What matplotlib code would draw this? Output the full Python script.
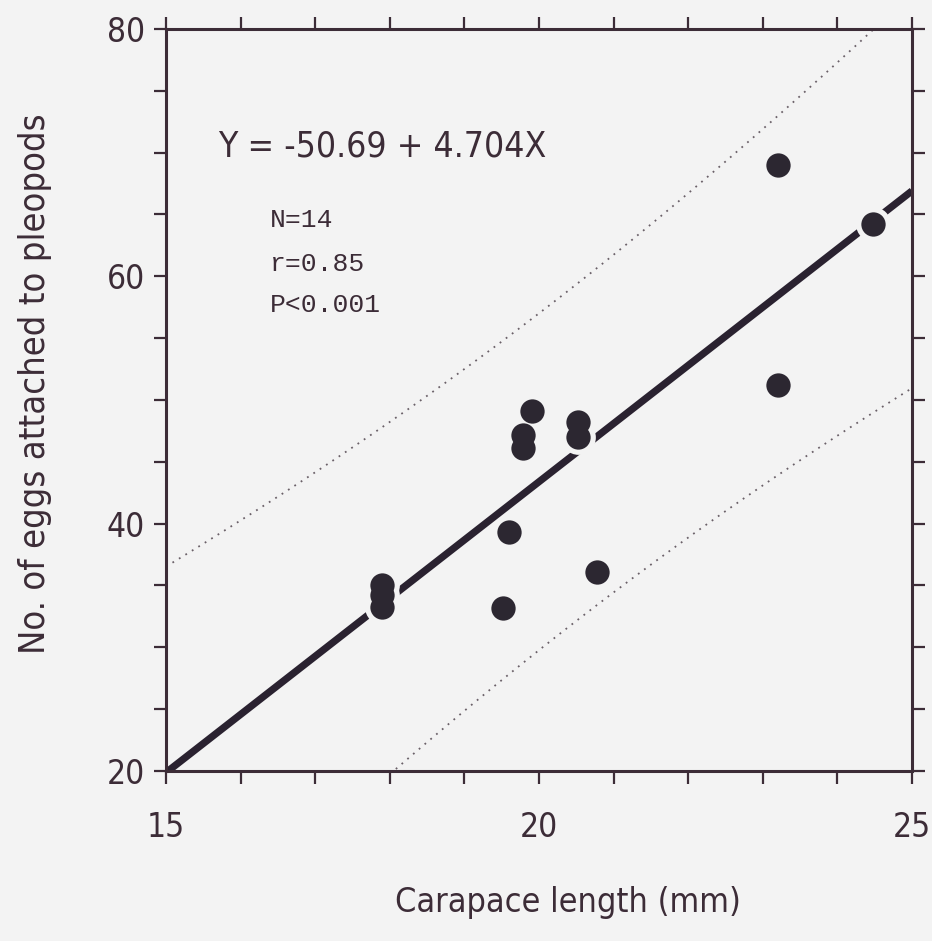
import numpy as np
import matplotlib
matplotlib.use("Agg")
import matplotlib.pyplot as plt
from matplotlib import font_manager as fm

# ---------------- data ----------------
carapace_mm = [23.2, 24.48, 23.2, 19.9, 19.79, 19.79, 20.52, 20.52,
               19.6, 19.52, 20.78, 17.9, 17.9, 17.9]
eggs = [69.0, 64.2, 51.2, 49.1, 47.2, 46.1, 48.2, 47.0,
        39.3, 33.2, 36.1, 35.0, 34.2, 33.3]
intercept = -50.69
slope = 4.704
t_975_df12 = 2.179          # Student t for the 95 % prediction band

x_ticks_major = [15, 20, 25]
x_ticks_minor = list(range(15, 26))
y_ticks_major = [20, 40, 60, 80]
y_ticks_minor = list(range(20, 81, 5))

equation_text = "Y = -50.69 + 4.704X"
stats_text = ["N=14", "r=0.85", "P<0.001"]
x_label = "Carapace length (mm)"
y_label = "No. of eggs attached to pleopods"

# ---------------- fonts ----------------
names = {f.name for f in fm.fontManager.ttflist}
narrow_kw = {}
if "Liberation Sans Narrow" in names:
    narrow_kw = dict(family="Liberation Sans Narrow")
else:
    cond = [f for f in fm.fontManager.ttflist
            if f.name == "DejaVu Sans" and "ondensed" in str(f.stretch) + f.fname]
    if cond:
        narrow_kw = dict(family="DejaVu Sans", stretch="condensed")
    else:
        narrow_kw = dict(family="Liberation Sans")
mono_family = "Liberation Mono" if "Liberation Mono" in names else "DejaVu Sans Mono"

BG = "#f3f3f3"
INK = "#3c2c37"
DOT = "#2c2731"
LINE = "#2a2230"

fig = plt.figure(figsize=(9.32, 9.41), dpi=100, facecolor=BG)
ax = fig.add_axes([166 / 932, 1 - 771 / 941, 746 / 932, 742 / 941])
ax.set_facecolor(BG)

x = np.array(carapace_mm)
y = np.array(eggs)
n = len(x)

# regression line
xx = np.linspace(15, 25, 200)
yy = intercept + slope * xx
ax.plot(xx, yy, color=LINE, lw=5.2, solid_capstyle="butt", zorder=2)

# 95 % prediction band
resid = y - (intercept + slope * x)
s = np.sqrt(np.sum(resid ** 2) / (n - 2))
xm = x.mean()
sxx = np.sum((x - xm) ** 2)
half = t_975_df12 * s * np.sqrt(1 + 1 / n + (xx - xm) ** 2 / sxx)
for band in (yy + half, yy - half):
    ax.plot(xx, band, color="#6a6068", lw=1.3, linestyle=(0, (1, 3.2)), zorder=1)

# points with background halo breaking the line
ax.plot(x, y, "o", ms=25, color=BG, mec="none", zorder=3)
ax.plot(x, y, "o", ms=17.5, color=DOT, mec="none", zorder=4)

ax.set_xlim(15, 25)
ax.set_ylim(20, 80)

ax.set_xticks(x_ticks_major)
ax.set_xticks(x_ticks_minor, minor=True)
ax.set_yticks(y_ticks_major)
ax.set_yticks(y_ticks_minor, minor=True)
ax.set_xticklabels([str(v) for v in x_ticks_major])
ax.set_yticklabels([str(v) for v in y_ticks_major])

ax.tick_params(which="both", direction="out", length=9, width=1.6, color=INK,
               top=True, right=True, bottom=True, left=True)
ax.tick_params(axis="x", which="major", pad=20)
ax.tick_params(axis="y", which="major", pad=6)

for sp in ax.spines.values():
    sp.set_linewidth(2.2)
    sp.set_color(INK)

for lab in ax.get_xticklabels() + ax.get_yticklabels():
    lab.set_fontsize(24)
    lab.set_color(INK)
    for k, v in narrow_kw.items():
        getattr(lab, "set_" + ("fontstretch" if k == "stretch" else k))(v)

ax.set_xlabel(x_label, fontsize=24.5, color=INK, **narrow_kw)
ax.xaxis.set_label_coords(0.539, -0.155)
ax.set_ylabel(y_label, fontsize=26, color=INK, **narrow_kw)
ax.yaxis.set_label_coords(-0.153, 0.522)

ax.text(0.070, 0.841, equation_text, transform=ax.transAxes, fontsize=25.5,
        color=INK, va="center", ha="left", **narrow_kw)
for txt, yy_ in zip(stats_text, [0.743, 0.683, 0.628]):
    ax.text(0.139, yy_, txt, transform=ax.transAxes, fontsize=19,
            color=INK, va="center", ha="left", family=mono_family)

fig.savefig("out.png", dpi=100, facecolor=BG)
